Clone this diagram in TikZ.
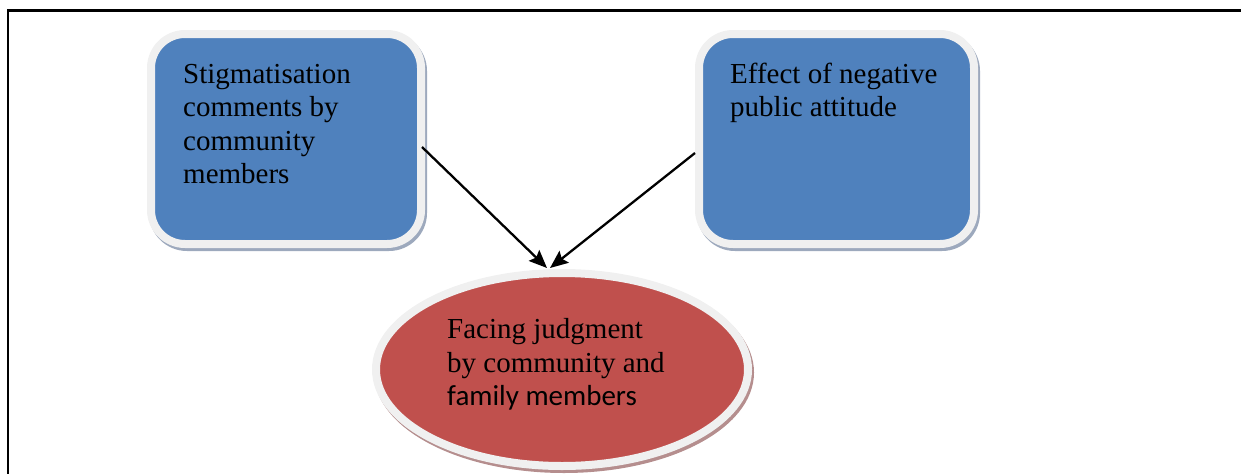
\documentclass[tikz,border=0pt]{standalone}
\usepackage{fontspec}
\setmainfont{Liberation Serif}
\newfontfamily\calib{Carlito}
\usetikzlibrary{arrows.meta,shapes.geometric}
\definecolor{boxblue}{HTML}{4F81BD}
\definecolor{ellred}{HTML}{C0504D}
\definecolor{rim}{HTML}{F0F0F0}
\definecolor{bshadow}{HTML}{9DA9BD}
\definecolor{rshadow}{HTML}{B58E8E}
\tikzset{
  box/.style={rectangle, rounded corners=34pt, draw=rim, line width=8pt, fill=boxblue,
    minimum width=#1, minimum height=210pt, inner sep=0pt},
  boxshadow/.style={rectangle, rounded corners=34pt, draw=bshadow, line width=8pt, fill=bshadow,
    minimum width=#1, minimum height=210pt, inner sep=0pt},
  ell/.style={ellipse, draw=rim, line width=8pt, fill=ellred,
    minimum width=372pt, minimum height=193pt, inner sep=0pt},
  ellshadow/.style={ellipse, draw=rshadow, line width=8pt, fill=rshadow,
    minimum width=372pt, minimum height=193pt, inner sep=0pt},
  lbl/.style={align=left, inner sep=0pt, anchor=base west,
    font=\fontsize{29}{33.5}\selectfont},
  arr/.style={line width=2.3pt, -{Stealth[length=18pt,width=15pt,inset=3pt]}},
  frame/.style={line width=2.2pt}
}
\begin{document}
\begin{tikzpicture}[x=1pt,y=-1pt]
\useasboundingbox (0,0) rectangle (1241,474);
% frame
\coordinate (fr1) at (1241,10.5);
\coordinate (fr2) at (8,10.5);
\coordinate (fr3) at (8,474);
\draw[frame] (fr1) -- (fr2) -- (fr3);
% shadows
\node[boxshadow=270pt] (stigsh) at (288,142) {};
\node[boxshadow=275pt] (effsh) at (838.5,142) {};
\node[ellshadow] (facesh) at (564,372.5) {};
% boxes
\node[box=270pt] (stig) at (286,139) {};
\node[box=275pt] (eff) at (836.5,139) {};
\node[ell] (face) at (562,369.5) {};
% texts (base anchor = baseline of last line)
\node[lbl] (stigtxt) at (183,183.5) {Stigmatisation\\comments by\\community\\members};
\node[lbl] (efftxt) at (730,116.5) {Effect of negative\\public attitude};
\node[lbl] (facetxt) at (447,405.5) {Facing judgment\\by community and\\{\calib family members}};
% arrows
\draw[arr] ([xshift=-3pt,yshift=-8pt]stig.east) -- ([xshift=-15pt,yshift=1pt]face.north);
\draw[arr] ([xshift=0pt,yshift=-14pt]eff.west) -- ([xshift=-12pt,yshift=1pt]face.north);
\end{tikzpicture}
\end{document}
